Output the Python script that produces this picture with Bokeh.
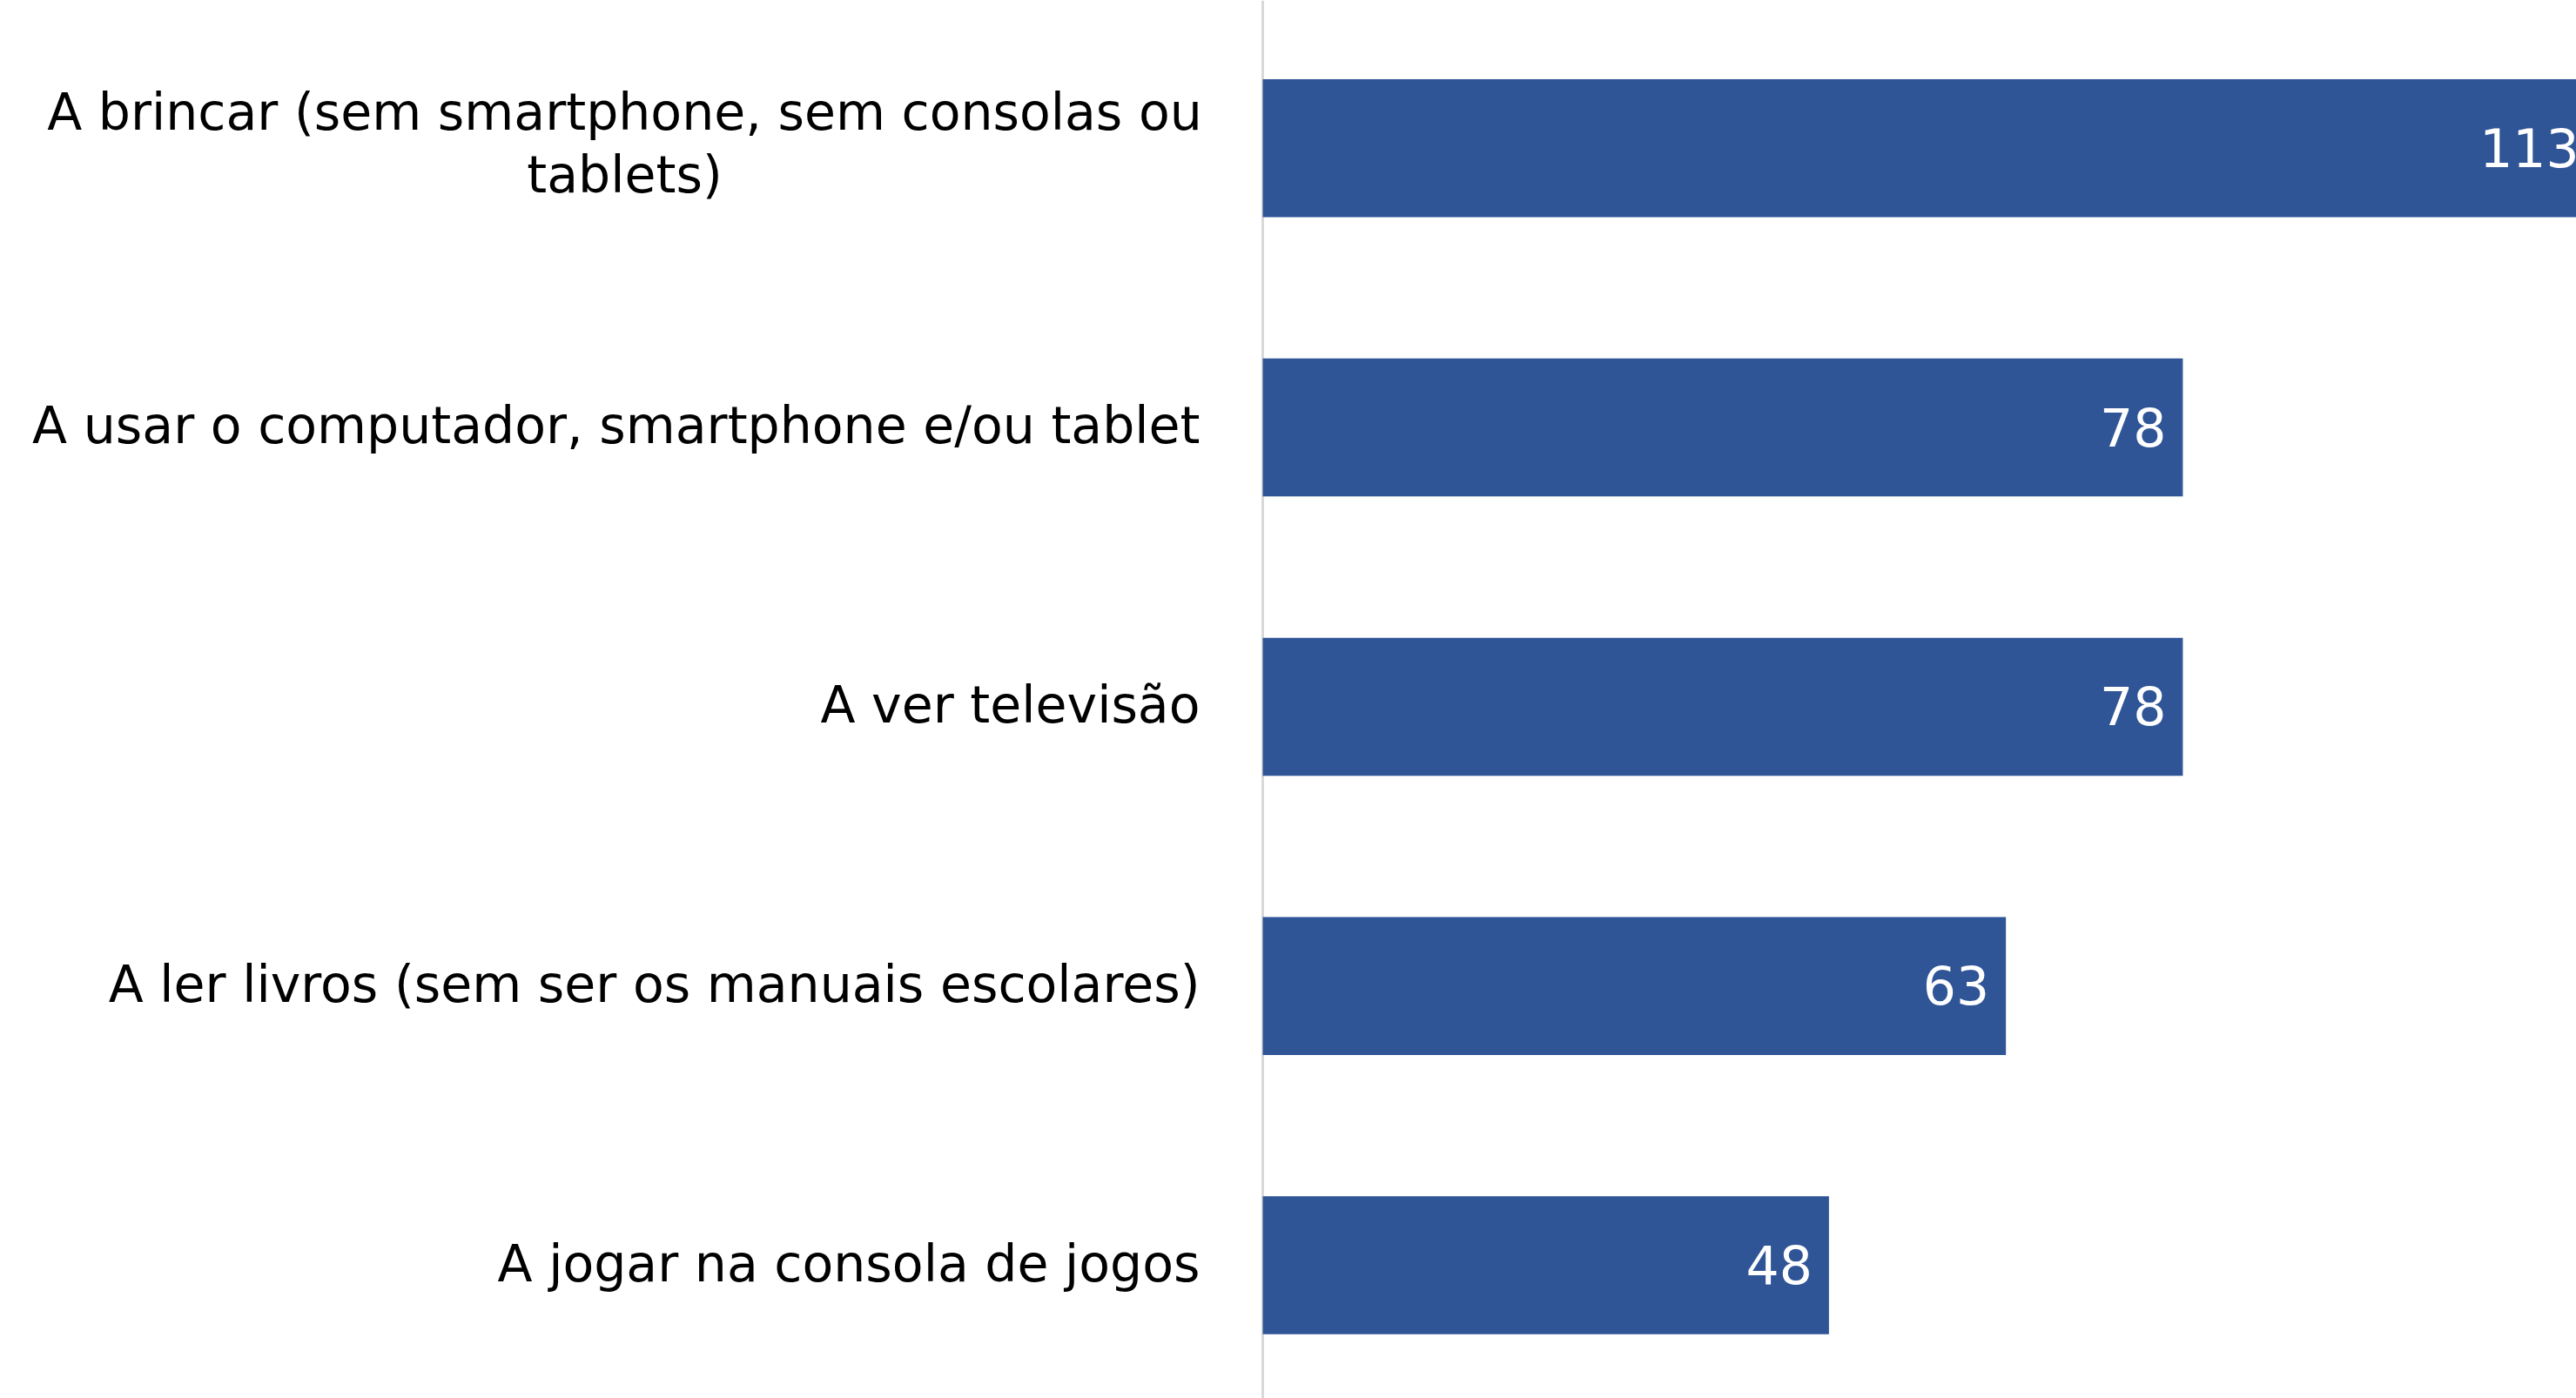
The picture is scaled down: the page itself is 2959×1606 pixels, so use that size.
from bokeh.plotting import figure
from bokeh.models import Range1d, Span, ColumnDataSource
from bokeh.core.properties import value
from bokeh.embed import file_html
from bokeh.resources import INLINE

categories = [
    "A brincar (sem smartphone, sem consolas ou\ntablets)",
    "A usar o computador, smartphone e/ou tablet",
    "A ver televisão",
    "A ler livros (sem ser os manuais escolares)",
    "A jogar na consola de jogos",
]
values = [113, 78, 78, 63, 48]
value_labels = [str(v) for v in values]

BAR = "#2F5597"
FONT = "DejaVu Sans"
FS = "58.5px"
FS_VAL = "60px"

W, H = 2959, 1606
px_per_unit = 13.55
x0_px = 1450
x_start = -x0_px / px_per_unit
x_end = (W - x0_px) / px_per_unit

cat_px = 320.8
first_center_px = 169.8
y_top = -first_center_px / cat_px
y_bottom = (H - first_center_px) / cat_px

pos = list(range(len(categories)))

p = figure(width=W, height=H, output_backend="svg", toolbar_location=None,
           x_range=Range1d(x_start, x_end), y_range=Range1d(y_bottom, y_top),
           min_border=0, min_border_left=0, min_border_right=0,
           min_border_top=0, min_border_bottom=0)
p.axis.visible = False
p.grid.visible = False
p.outline_line_color = None
p.background_fill_color = "white"
p.border_fill_color = "white"

axis_line = Span(location=0, dimension="height", line_color="#d9d9d9", line_width=3, level="underlay")
p.add_layout(axis_line)

src = ColumnDataSource(dict(y=pos, v=values, lab=value_labels))
p.hbar(y="y", left=0, right="v", height=0.494, source=src, fill_color=BAR, line_color=None)

p.text(x="v", y="y", text="lab", source=src, x_offset=-19, y_offset=-1, text_align="right",
       text_baseline="middle", text_color="white", text_font=value(FONT), text_font_size=FS_VAL)

# category labels
single = ColumnDataSource(dict(x=[0] * (len(categories) - 1), y=pos[1:], t=categories[1:]))
p.text(x="x", y="y", text="t", source=single, x_offset=-72, y_offset=-2, text_align="right",
       text_baseline="middle", text_color="black", text_font=value(FONT), text_font_size=FS)

first_lines = categories[0].split("\n")
first = ColumnDataSource(dict(x=[0, 0], y=[pos[0], pos[0]], t=first_lines, dy=[-41, 31]))
p.text(x="x", y="y", text="t", source=first, x_offset=-72 - 661, y_offset="dy",
       text_align="center", text_baseline="middle", text_color="black",
       text_font=value(FONT), text_font_size=FS)

open("out.html", "w").write(file_html(p, INLINE))
